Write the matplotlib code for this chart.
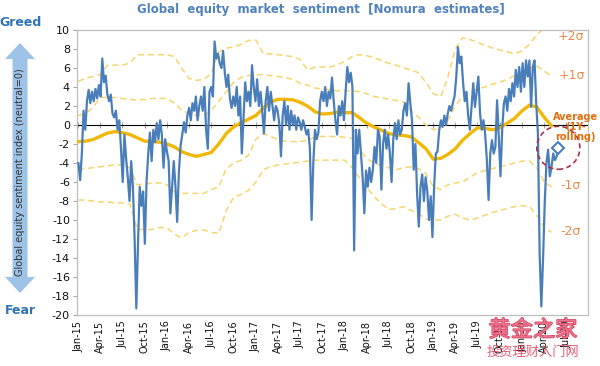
import matplotlib
matplotlib.use('Agg')
import matplotlib.pyplot as plt
import matplotlib.dates as mdates
import matplotlib.patheffects as pe
from matplotlib.patches import Polygon, Circle
from matplotlib.transforms import ScaledTranslation, blended_transform_factory
import pandas as pd

plt.rcParams['axes.unicode_minus'] = False
plt.rcParams['font.family'] = ['DejaVu Sans', 'Noto Sans CJK SC']

# ---------------- data (weekly sentiment index, from Jan-2015) ----------------
sentiment = [
    -4.0, -5.8, -3.0, 1.5, -0.5, 2.5, 3.7, 2.3, 3.5, 2.5,
    3.8, 2.8, 4.2, 3.0, 7.0, 4.5, 5.2, 3.2, 2.5, 3.2,
    1.2, 0.8, 1.5, -0.5, 0.5, -2.5, -6.0, -1.0, -3.5, -5.5,
    -8.0, -3.8, -6.5, -12.0, -19.3, -12.5, -6.5, -8.5, -7.0, -12.5,
    -6.0, -3.0, -0.8, -3.8, -0.5, -1.8, 0.2, -1.5, 0.5, -1.0,
    -4.5, -1.5, -2.8, -3.8, -9.3, -6.5, -3.8, -6.5, -10.2, -5.0,
    -2.2, -1.0, 0.3, -0.8, 1.0, 1.8, 0.5, 2.3, 1.5, 3.0,
    0.5, 2.0, 3.0, 1.5, 4.0, -0.5, -2.5, 3.5,
    4.0, 3.0, 8.8, 7.0, 7.5, 6.5, 6.0, 7.8, 5.5, 4.0,
    5.3, 2.8, 1.8, 3.0, 2.0, 4.0, 1.0, 3.0, -3.0, 0.8,
    4.5, 2.5, 3.5, 2.0, 6.3, 4.0, 2.5, 4.8, 2.0, 3.5,
    1.5, -0.9, 2.5, 4.0, 1.5, 3.5, 2.0, 0.5, 2.0, 1.5,
    0.2, -3.3, 1.0, 2.5, 0.0, 2.0, -0.5, 1.5, 0.0, 1.0,
    -0.5, 0.8, 0.3, -0.5, 0.5, -0.2, -1.0, -0.5, -2.5, -10.0,
    -4.0, -0.5, -1.5, -0.8, 2.5, 3.5, 2.5, 4.0, 2.0, 3.5,
    2.8, 5.0, 2.5, 0.5, -1.0, 2.0, 1.0, 2.5, 0.5, 3.5,
    6.1, 4.5, 5.5, 4.0,
    -13.2, -0.5, -3.0, -0.5, -3.0, -5.5, -9.3, -4.8, -6.5, -4.5,
    -6.0, -4.7, -2.3, -4.0, -0.5, -1.2, -6.8, -2.0, -0.5, -2.5,
    -1.0, -3.0, -6.0, -1.5, 0.2, -1.5, 0.5, -1.0, -0.5, 1.5,
    2.3, 1.0, 4.4, 2.3, 0.5, -4.7, -2.0, -7.2, -10.7, -6.5,
    -5.2, -8.0, -5.5, -7.0, -10.0, -7.5, -11.8, -6.5, -3.0, -2.8,
    -0.5, 0.5, -0.2, 1.0, 0.0, 1.2, 2.0, 1.5, 2.3, 3.0,
    5.0, 8.2, 6.5,
    7.2, 4.5, 2.5, 3.5, 1.0, -0.5, 2.0, 4.4, 1.9, 3.5,
    5.1, 1.2, -0.5, 0.5, -1.0, -3.7, -7.9, -3.0, -1.6, -3.0,
    -2.3, 2.6, -1.2, -5.4, -0.5, 2.3, 3.0, 1.5, 3.8, 2.5,
    4.4, 3.0, 5.8, 4.0, 6.1, 3.5, 6.5, 4.0, 6.8, 5.1,
    6.8, 1.9, 6.1, 6.8, 2.3, -0.9, -13.5, -19.1, -14.2, -8.2,
    -4.0, -2.6, -5.4, -4.4, -3.0, -3.7, -3.3, -2.4,
]

# ---------------- monthly 1Y-rolling average and sigma bands ----------------
avg_1y = [
    -1.75, -1.7, -1.55, -1.2, -0.85, -0.7, -0.8, -1.0, -1.35, -1.7,
    -1.75, -1.8, -2.0, -2.3, -2.8, -3.1, -3.3, -3.1, -2.9, -2.0,
    -0.9, -0.2, 0.25, 0.6, 1.0, 1.8, 2.4, 2.7, 2.7, 2.65,
    2.4, 2.0, 1.4, 1.15, 1.2, 1.35, 1.3, 1.3, 0.8, 0.2,
    -0.2, -0.55, -0.9, -1.05, -1.1, -1.25, -1.85, -2.5, -3.6, -3.5,
    -3.1, -2.5, -1.6, -0.9, -0.3, -0.35, -0.5, -0.3, 0.2, 0.7,
    1.5, 2.1, 1.9, 0.8, -0.1,
]
plus2 = [
    4.6, 4.9, 5.1, 5.3, 6.3, 6.3, 6.3, 6.5, 7.4, 7.4,
    7.4, 7.4, 7.4, 7.2, 6.0, 4.9, 4.7, 4.8, 5.4, 7.7,
    8.1, 8.2, 8.5, 8.9, 8.95, 7.5, 7.5, 7.4, 7.3, 7.2,
    6.9, 5.8, 6.1, 6.1, 6.1, 6.3, 6.7, 7.2, 7.4, 7.3,
    7.1, 6.8, 6.5, 6.3, 6.0, 5.8, 5.5, 4.5, 3.3, 3.0,
    5.0, 8.0, 9.2, 9.0, 8.7, 8.4, 8.1, 7.9, 7.7, 7.5,
    7.8, 8.5, 9.5, 10.2, 10.4,
]
plus1 = [
    1.0, 1.2, 1.8, 2.9, 2.9, 2.9, 2.8, 2.7, 2.6, 2.7,
    2.8, 2.8, 2.8, 2.3, 1.6, 1.2, 1.0, 1.0, 1.5, 2.5,
    3.5, 4.5, 5.0, 5.2, 5.3, 5.3, 5.2, 5.1, 5.0, 4.8,
    4.4, 4.2, 3.9, 3.8, 3.7, 3.6, 3.6, 3.6, 3.5, 3.3,
    3.0, 2.9, 2.7, 2.6, 2.4, 1.5, 0.8, 0.0, -0.5, -0.3,
    0.5, 2.0, 3.0, 3.5, 3.8, 4.0, 4.3, 4.5, 4.8, 5.2,
    5.6, 6.0, 6.2, 5.7, 5.1,
]
minus1 = [
    -4.7, -4.6, -4.5, -4.4, -4.3, -4.2, -4.2, -4.5, -6.3, -6.2,
    -6.1, -6.1, -6.3, -7.0, -7.2, -7.2, -7.2, -7.2, -6.8, -6.5,
    -4.6, -4.0, -3.7, -3.2, -1.5, -0.9, -1.2, -1.5, -1.7, -1.75,
    -1.75, -1.6, -1.3, -1.2, -1.2, -1.2, -1.3, -1.4, -2.5, -3.5,
    -4.0, -4.3, -4.5, -4.7, -4.5, -4.4, -4.6, -5.1, -6.5, -6.8,
    -6.3, -6.1, -6.0, -5.5, -5.0, -4.8, -4.6, -4.4, -4.2, -4.0,
    -3.8, -3.8, -4.5, -6.0, -6.5,
]
minus2 = [
    -7.9, -7.9, -8.0, -8.1, -8.1, -8.2, -8.2, -8.3, -11.0, -11.0,
    -11.0, -10.8, -10.8, -11.5, -11.9, -11.3, -11.1, -11.05, -11.3, -11.4,
    -9.0, -7.6, -7.3, -6.9, -6.0, -4.7, -4.4, -4.2, -4.1, -4.0,
    -3.9, -3.8, -3.7, -3.7, -3.7, -3.7, -3.7, -4.5, -5.5, -6.5,
    -7.5, -8.3, -8.9, -8.8, -8.6, -9.0, -9.3, -9.9, -10.0, -10.0,
    -9.6, -9.4, -9.8, -10.0, -9.8, -9.5, -9.2, -9.0, -8.8, -8.6,
    -8.5, -8.6, -9.5, -10.8, -11.3,
]
tick_labels = [
    'Jan-15', 'Apr-15', 'Jul-15', 'Oct-15', 'Jan-16', 'Apr-16', 'Jul-16', 'Oct-16',
    'Jan-17', 'Apr-17', 'Jul-17', 'Oct-17', 'Jan-18', 'Apr-18', 'Jul-18', 'Oct-18',
    'Jan-19', 'Apr-19', 'Jul-19', 'Oct-19', 'Jan-20', 'Apr-20', 'Jul-20',
]
y_ticks = list(range(-20, 11, 2))

week_dates = pd.date_range('2015-01-02', periods=len(sentiment), freq='7D')
month_dates = pd.date_range('2015-01-01', periods=len(avg_1y), freq='MS')
tick_dates = pd.date_range('2015-01-01', periods=len(tick_labels), freq='3MS')

# ---------------- figure ----------------
W, H = 600, 366
fig = plt.figure(figsize=(W / 100, H / 100), dpi=100)
ax = fig.add_axes([77 / W, 1 - 315 / H, (588 - 77) / W, (315 - 30) / H])

ymin, ymax = -20, 10
ax.set_ylim(ymin, ymax)
ax.set_xlim(pd.Timestamp('2014-12-27'), pd.Timestamp('2020-09-28'))

band_col = '#F7D56E'
for band in (plus2, plus1, minus1, minus2):
    ax.plot(month_dates, band, color=band_col, lw=1.1, ls=(0, (4, 2.5)), zorder=2)
ax.plot(month_dates, avg_1y, color='#F2B705', lw=2.4, zorder=3, solid_capstyle='round')

blue = '#4A7EBB'
ax.plot(week_dates, sentiment, color=blue, lw=1.6, zorder=4)
ax.plot(week_dates[-1:], sentiment[-1:], marker='D', ms=6, mfc='white', mec=blue,
        mew=1.5, ls='none', zorder=5)

# dashed circle around the latest reading
circ = Circle((0, 0), radius=0.215, fill=False, ec='#A83248', lw=1.2, ls=(0, (3, 2)),
              transform=fig.dpi_scale_trans +
              ScaledTranslation(mdates.date2num(week_dates[-1]), sentiment[-1], ax.transData),
              zorder=6, clip_on=False)
ax.add_artist(circ)

# axes styling
for sp in ax.spines.values():
    sp.set_color('#BFBFBF')
    sp.set_linewidth(0.9)
ax.set_yticks(y_ticks)
ax.tick_params(axis='y', labelsize=8, length=3, color='#A6A6A6', pad=2, labelcolor='#111111')
ax.set_xticks(tick_dates)
ax.set_xticklabels(tick_labels, rotation=90, fontsize=7, color='#111111')
ax.tick_params(axis='x', length=0, pad=4)

# zero line with quarterly tick marks
sec = ax.secondary_xaxis((0 - ymin) / (ymax - ymin))
sec.set_xticks(mdates.date2num(tick_dates))
sec.set_xticklabels([])
sec.tick_params(axis='x', direction='inout', length=4, color='#A6A6A6', width=0.8)
sec.spines['bottom'].set_color('#A6A6A6')
sec.spines['bottom'].set_linewidth(0.9)

# right-hand labels
trans = blended_transform_factory(ax.transAxes, ax.transData)
lab_col = '#E8894A'
ax.text(0.966, 9.3, '+2σ', transform=trans, color=lab_col, fontsize=9, ha='center', va='center')
ax.text(0.968, 5.2, '+1σ', transform=trans, color=lab_col, fontsize=9, ha='center', va='center')
ax.text(0.966, -6.4, '-1σ', transform=trans, color=lab_col, fontsize=9, ha='center', va='center')
ax.text(0.966, -11.2, '-2σ', transform=trans, color=lab_col, fontsize=9, ha='center', va='center')
ax.text(0.975, -0.2, 'Average\n(1Y-\nrolling)', transform=trans, color='#E46C0A', fontsize=7,
        fontweight='bold', ha='center', va='center', linespacing=0.95, clip_on=False, zorder=7)

# title
fig.text(321 / W, 1 - 9 / H, 'Global  equity  market  sentiment  [Nomura  estimates]',
         ha='center', va='center', fontsize=8.5, fontweight='bold', color='#4F81BD')

# y-axis double arrow with label
cx, top, bot = 20, 43, 293
hl, hw, bw = 16, 15, 7.5
pts_px = [(cx, top), (cx + hw, top + hl), (cx + bw, top + hl), (cx + bw, bot - hl),
          (cx + hw, bot - hl), (cx, bot), (cx - hw, bot - hl), (cx - bw, bot - hl),
          (cx - bw, top + hl), (cx - hw, top + hl)]
pts = [(x / W, 1 - y / H) for x, y in pts_px]
fig.patches.append(Polygon(pts, closed=True, transform=fig.transFigure,
                           fc='#9DC3E6', ec='none', zorder=0))
fig.text(cx / W, 1 - 172 / H, 'Global equity sentiment index (neutral=0)', rotation=90,
         ha='center', va='center', fontsize=7, color='#333333')
fig.text(cx / W, 1 - 22 / H, 'Greed', ha='center', va='center', fontsize=9,
         fontweight='bold', color='#2E75B6')
fig.text(cx / W, 1 - 311 / H, 'Fear', ha='center', va='center', fontsize=9,
         fontweight='bold', color='#2E75B6')

# watermark
wm1 = fig.text(533 / W, 1 - 330 / H, '黄金之家', ha='center', va='center', fontsize=16,
               color='#F07A96', family=['Noto Sans CJK SC', 'DejaVu Sans'], alpha=0.9)
wm1.set_path_effects([pe.withStroke(linewidth=1.0, foreground='#D0304F')])
fig.text(533 / W, 1 - 352 / H, '投资理财入门网', ha='center', va='center', fontsize=9.5,
         color='#E0405E', family=['Noto Sans CJK SC', 'DejaVu Sans'], alpha=0.85)

fig.savefig('out.png', dpi=100)
